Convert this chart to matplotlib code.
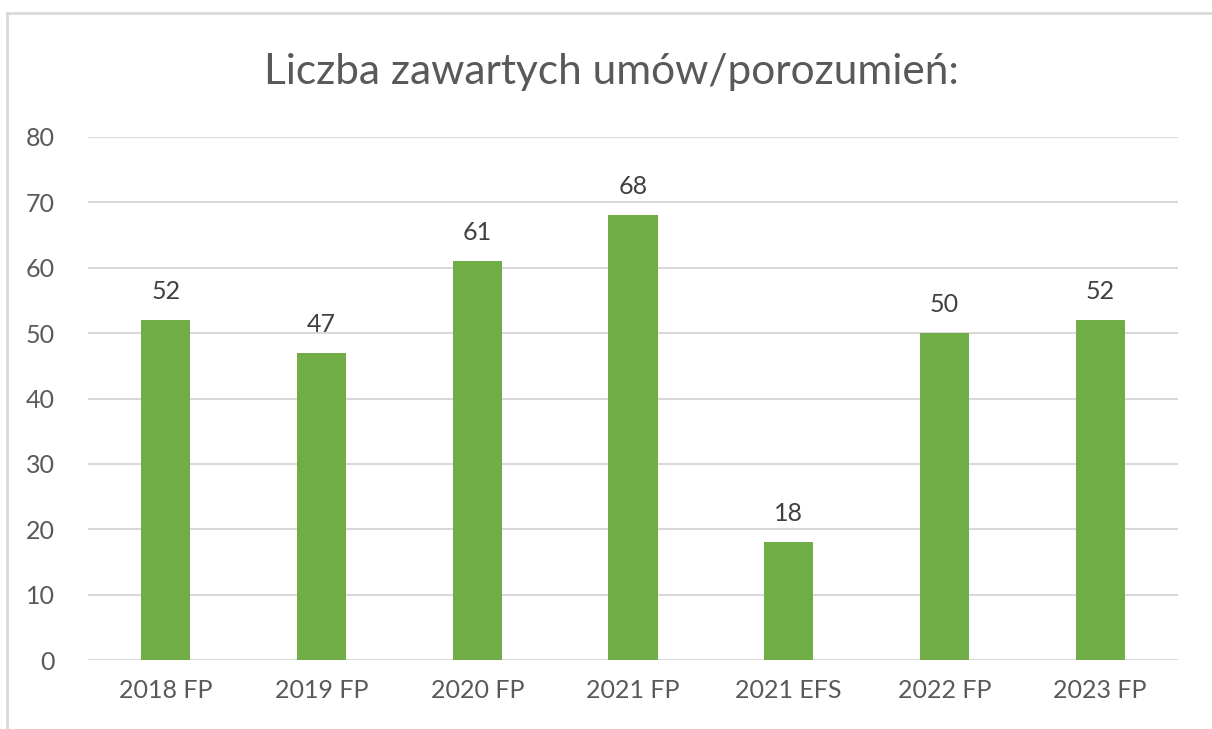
import matplotlib.pyplot as plt
from matplotlib.lines import Line2D

# dane
categories = ['2018 FP', '2019 FP', '2020 FP', '2021 FP', '2021 EFS', '2022 FP', '2023 FP']
values = [52, 47, 61, 68, 18, 50, 52]
yticks = [0, 10, 20, 30, 40, 50, 60, 70, 80]
title = 'Liczba zawartych umów/porozumień:'

plt.rcParams['font.family'] = ['Lato', 'DejaVu Sans']

fig = plt.figure(figsize=(12.12, 7.29), dpi=100)
ax = fig.add_axes([88/1212, 69/729, 1090/1212, 523/729])

x = range(len(categories))
bars = ax.bar(x, values, width=0.315, color='#70AD47', zorder=3)

for xi, v in zip(x, values):
    ax.text(xi, v + 2.6, str(v), ha='center', va='bottom', fontsize=18, color='#404040')

ax.set_xlim(-0.5, len(categories) - 0.5)
ax.set_ylim(0, 80)
ax.set_yticks(yticks)
ax.set_xticks(list(x))
ax.set_xticklabels(categories)
ax.grid(axis='y', color='#D9D9D9', linewidth=1.5, zorder=0)
for s in ax.spines.values():
    s.set_visible(False)
ax.tick_params(length=0, labelsize=18, labelcolor='#595959')
ax.tick_params(axis='y', pad=24)
ax.tick_params(axis='x', pad=14)

fig.text(611/1212, 1 - 72/729, title, ha='center', va='center', fontsize=30.5, color='#595959')

# ramka
fig.add_artist(Line2D([7/1212, 1], [1 - 12.5/729, 1 - 12.5/729], color='#D9D9D9', linewidth=2))
fig.add_artist(Line2D([7/1212, 7/1212], [0, 1 - 12.5/729], color='#D9D9D9', linewidth=2))

fig.savefig('out.png', dpi=100)
